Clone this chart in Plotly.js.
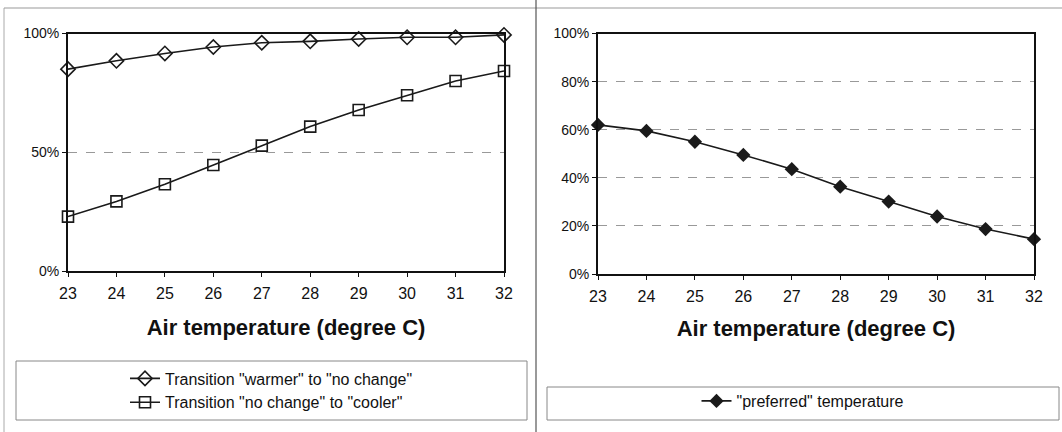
<!DOCTYPE html>
<html>
<head>
<meta charset="utf-8">
<script src="https://cdn.plot.ly/plotly-3.0.1.min.js"></script>
<style>html,body{margin:0;padding:0;background:#fff;}#chart{width:1062px;height:432px;}</style>
</head>
<body>
<div id="chart"></div>
<script>
const temps = [23, 24, 25, 26, 27, 28, 29, 30, 31, 32];
const warmerToNoChange = [85, 88.5, 91.6, 94.3, 96.1, 96.7, 97.7, 98.4, 98.4, 99.4];
const noChangeToCooler = [22.9, 29.3, 36.5, 44.6, 52.8, 60.8, 67.8, 74.0, 80.0, 84.2];
const preferredTemp = [62, 59.5, 55.0, 49.5, 43.6, 36.3, 30.1, 23.9, 18.7, 14.5];
const xTitle = 'Air temperature (degree C)';
const names = ['Transition "warmer" to "no change"', 'Transition "no change" to "cooler"', '"preferred" temperature'];

const W = 1062, H = 432;
const px = v => v / W, py = v => 1 - v / H;
const FONT = '"Liberation Sans", Arial, sans-serif';
const lineC = '#1a1a1a';

const traces = [
  {x: temps, y: warmerToNoChange, name: names[0], type: 'scatter', mode: 'lines+markers',
   xaxis: 'x', yaxis: 'y', legend: 'legend', cliponaxis: false,
   line: {color: lineC, width: 1.6},
   marker: {symbol: 'diamond-open', size: 11, color: lineC, line: {width: 1.6, color: lineC}}},
  {x: temps, y: noChangeToCooler, name: names[1], type: 'scatter', mode: 'lines+markers',
   xaxis: 'x', yaxis: 'y', legend: 'legend', cliponaxis: false,
   line: {color: lineC, width: 1.6},
   marker: {symbol: 'square-open', size: 11, color: lineC, line: {width: 1.6, color: lineC}}},
  {x: temps, y: preferredTemp, name: names[2], type: 'scatter', mode: 'lines+markers',
   xaxis: 'x2', yaxis: 'y2', legend: 'legend2', cliponaxis: false,
   line: {color: lineC, width: 1.6},
   marker: {symbol: 'diamond', size: 11, color: lineC}}
];

const xBase = {
  range: [23, 32], dtick: 1, tick0: 23, showgrid: false, zeroline: false,
  showline: true, mirror: true, linecolor: '#111', linewidth: 2,
  ticks: 'outside', ticklen: 4, tickcolor: '#111', ticklabelstandoff: 3,
  tickfont: {family: FONT, size: 16, color: '#111'},
  title: {text: xTitle, font: {family: FONT, size: 22, color: '#111', weight: 'bold'}, standoff: 18},
  fixedrange: true
};
const yBase = {
  showline: true, mirror: true, linecolor: '#111', linewidth: 2,
  ticks: 'outside', ticklen: 4, tickcolor: '#111', ticksuffix: '%',
  zeroline: false, showgrid: true, gridcolor: '#999', griddash: 'dash', gridwidth: 1,
  tickfont: {family: FONT, size: 14, color: '#111'}, fixedrange: true
};

const layout = {
  width: W, height: H, margin: {l: 0, r: 0, t: 0, b: 0},
  paper_bgcolor: '#fff', plot_bgcolor: '#fff',
  font: {family: FONT, color: '#111'},
  showlegend: true,
  xaxis: Object.assign({}, xBase, {domain: [px(68), px(504)], anchor: 'y'}),
  yaxis: Object.assign({}, yBase, {domain: [py(271), py(33.5)], range: [0, 100], dtick: 50, anchor: 'x'}),
  xaxis2: Object.assign({}, xBase, {domain: [px(598), px(1034)], anchor: 'y2',
    title: Object.assign({}, xBase.title, {standoff: 16})}),
  yaxis2: Object.assign({}, yBase, {domain: [py(274), py(33.5)], range: [0, 100], dtick: 20, anchor: 'x2'}),
  legend: {x: px(271.5), y: py(390.5), xanchor: 'center', yanchor: 'middle',
           bgcolor: 'rgba(0,0,0,0)', borderwidth: 0, font: {family: FONT, size: 16, color: '#111'},
           itemclick: false, itemdoubleclick: false},
  legend2: {x: px(803), y: py(401), xanchor: 'center', yanchor: 'middle',
           bgcolor: 'rgba(0,0,0,0)', borderwidth: 0, font: {family: FONT, size: 16, color: '#111'},
           itemclick: false, itemdoubleclick: false},
  shapes: [
    {type: 'line', xref: 'paper', yref: 'paper', x0: px(4), x1: px(4), y0: py(8), y1: py(432), line: {color: '#aaa', width: 1}},
    {type: 'line', xref: 'paper', yref: 'paper', x0: px(4), x1: px(1062), y0: py(8), y1: py(8), line: {color: '#999', width: 1}},
    {type: 'line', xref: 'paper', yref: 'paper', x0: px(536), x1: px(536), y0: py(0), y1: py(432), line: {color: '#555', width: 1.2}},
    {type: 'rect', xref: 'paper', yref: 'paper', x0: px(16), x1: px(527), y0: py(361), y1: py(420), line: {color: '#888', width: 1}},
    {type: 'rect', xref: 'paper', yref: 'paper', x0: px(547), x1: px(1059), y0: py(387), y1: py(420), line: {color: '#888', width: 1}}
  ]
};

Plotly.newPlot('chart', traces, layout, {staticPlot: true, displayModeBar: false});
</script>
</body>
</html>
